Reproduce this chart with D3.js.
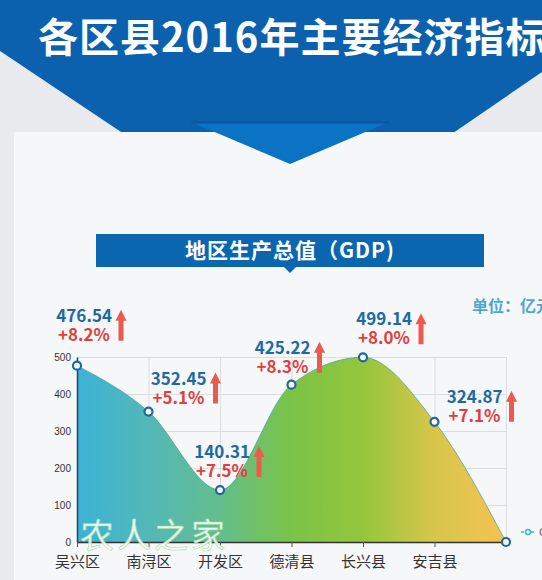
<!DOCTYPE html>
<html>
<head>
<meta charset="utf-8">
<script src="https://cdn.jsdelivr.net/npm/d3@7"></script>
<style>
body { margin:0; background:#e9eaed; overflow:hidden; }
svg { display:block; }
</style>
</head>
<body>
<svg></svg>
<script>
// data
var districts = ["吴兴区", "南浔区", "开发区", "德清县", "长兴县", "安吉县", ""];
var gdp = [476.54, 352.45, 140.31, 425.22, 499.14, 324.87, 0];
var growth = [8.2, 5.1, 7.5, 8.3, 8.0, 7.1];
var yTicks = [0, 100, 200, 300, 400, 500];

// label placement (layout only): offset of text end / baseline from the point
var labelDx = [35, 58, 30, 19, 49, 68];
var labelDy = [-44, -27, -32, -31, -32, -19];

var screen = {width: 542, height: 580};
var plot = {left: 77, right: 506, top: 357, bottom: 542};

var svg = d3.select("svg")
    .attr("width", screen.width)
    .attr("height", screen.height);

var defs = svg.append("defs");
var grad = defs.append("linearGradient")
    .attr("id", "fillGrad")
    .attr("gradientUnits", "userSpaceOnUse")
    .attr("x1", plot.left).attr("x2", plot.right)
    .attr("y1", 0).attr("y2", 0);
[[0, "#3db2d6"], [0.17, "#53b8b6"], [0.34, "#64be8a"], [0.5, "#7bc347"],
 [0.66, "#93c63c"], [0.83, "#d6c64b"], [1, "#f6c252"]].forEach(function(s){
    grad.append("stop").attr("offset", s[0]).attr("stop-color", s[1]);
});

// ---- header ----
svg.append("rect").attr("width", screen.width).attr("height", screen.height).attr("fill", "#e9eaed");
svg.append("polygon")
    .attr("points", "0,0 542,0 542,72 290,245 0,51")
    .attr("fill", "#0b61ae");
svg.append("text")
    .attr("x", 38).attr("y", 52)
    .attr("fill", "#ffffff")
    .attr("font-family", "'Noto Sans CJK SC', sans-serif")
    .attr("font-weight", "bold")
    .attr("font-size", 40)
    .attr("letter-spacing", 1)
    .text("各区县2016年主要经济指标");

// white panel
svg.append("rect")
    .attr("x", 14).attr("y", 132)
    .attr("width", 540).attr("height", 460)
    .attr("fill", "#f6f7f9");
svg.append("polygon")
    .attr("points", "191,122 389,122 290,164")
    .attr("fill", "#0b73c3");
svg.append("line")
    .attr("x1", 191).attr("x2", 389).attr("y1", 122.5).attr("y2", 122.5)
    .attr("stroke", "#0a56a0").attr("stroke-width", 2);

// sub banner
svg.append("rect")
    .attr("x", 96).attr("y", 234)
    .attr("width", 388).attr("height", 33)
    .attr("fill", "#0b66b0");
svg.append("polygon")
    .attr("points", "284,267 296,267 290,273")
    .attr("fill", "#0b66b0");
svg.append("text")
    .attr("x", 290).attr("y", 258)
    .attr("text-anchor", "middle")
    .attr("fill", "#ffffff")
    .attr("font-family", "'Noto Sans CJK SC', sans-serif")
    .attr("font-weight", "bold")
    .attr("font-size", 21)
    .attr("letter-spacing", 1)
    .text("地区生产总值（GDP)");

svg.append("text")
    .attr("x", 472).attr("y", 312)
    .attr("fill", "#4aa7d4")
    .attr("font-family", "'Noto Sans CJK SC', sans-serif")
    .attr("font-weight", "bold")
    .attr("font-size", 16)
    .text("单位：亿元");

// ---- chart ----
var xScale = d3.scalePoint().domain(districts).range([plot.left, plot.right]);
var yScale = d3.scaleLinear().domain([0, 500]).range([plot.bottom, plot.top]);

var graph = svg.append("g").attr("id", "graph");

// grid
graph.append("g").selectAll("line.h")
    .data(yTicks.slice(1))
    .enter().append("line")
    .attr("x1", plot.left).attr("x2", plot.right)
    .attr("y1", function(d){ return yScale(d) + 0.5; })
    .attr("y2", function(d){ return yScale(d) + 0.5; })
    .attr("stroke", "#dcdde0");
graph.append("g").selectAll("line.v")
    .data(districts.slice(1))
    .enter().append("line")
    .attr("x1", function(d){ return xScale(d) + 0.5; })
    .attr("x2", function(d){ return xScale(d) + 0.5; })
    .attr("y1", plot.top).attr("y2", plot.bottom)
    .attr("stroke", "#dcdde0");

var pts = districts.map(function(d, i){ return {name: d, value: gdp[i]}; });

var area = d3.area()
    .x(function(d){ return xScale(d.name); })
    .y0(plot.bottom)
    .y1(function(d){ return yScale(d.value); })
    .curve(d3.curveMonotoneX);
var line = d3.line()
    .x(function(d){ return xScale(d.name); })
    .y(function(d){ return yScale(d.value); })
    .curve(d3.curveMonotoneX);

graph.append("path").datum(pts)
    .attr("d", area)
    .attr("fill", "url(#fillGrad)");
graph.append("path").datum(pts)
    .attr("d", line)
    .attr("fill", "none")
    .attr("stroke", "#3f9b9b")
    .attr("stroke-opacity", 0.7)
    .attr("stroke-width", 1);

// axes
var yAxis = d3.axisLeft(yScale).tickValues(yTicks).tickSize(0).tickPadding(6);
var yG = graph.append("g")
    .attr("transform", "translate(" + plot.left + ",0)")
    .call(yAxis);
yG.select(".domain").attr("stroke", "#27415f").attr("stroke-width", 1.5);
yG.selectAll("text")
    .attr("font-family", "'Liberation Sans', Arial, sans-serif")
    .attr("font-size", 10)
    .attr("fill", "#333");

var xAxis = d3.axisBottom(xScale).tickSize(5).tickPadding(9).tickSizeOuter(0);
var xG = graph.append("g")
    .attr("transform", "translate(0," + plot.bottom + ")")
    .call(xAxis);
xG.select(".domain").attr("stroke", "#333").attr("stroke-width", 1.5);
xG.selectAll(".tick line").attr("stroke", "#555");
xG.selectAll("text")
    .attr("font-family", "'Noto Sans CJK SC', sans-serif")
    .attr("font-size", 15)
    .attr("fill", "#333");

// points
graph.append("g").selectAll("circle")
    .data(pts)
    .enter().append("circle")
    .attr("cx", function(d){ return xScale(d.name); })
    .attr("cy", function(d){ return yScale(d.value); })
    .attr("r", 4)
    .attr("fill", "#ffffff")
    .attr("stroke", "#1e67a0")
    .attr("stroke-width", 2.2);

// value labels with arrows
var labels = graph.append("g").selectAll("g")
    .data(pts.slice(0, growth.length))
    .enter().append("g")
    .attr("transform", function(d, i){
        return "translate(" + (xScale(d.name) + labelDx[i]) + "," + (yScale(d.value) + labelDy[i]) + ")";
    });
labels.append("text")
    .attr("text-anchor", "end")
    .attr("font-family", "'Noto Sans CJK SC', sans-serif")
    .attr("font-weight", "bold")
    .attr("font-size", 17)
    .attr("fill", "#1d6aa3")
    .text(function(d){ return d.value.toFixed(2); });
labels.append("text")
    .attr("text-anchor", "end")
    .attr("x", -2)
    .attr("y", 19)
    .attr("font-family", "'Noto Sans CJK SC', sans-serif")
    .attr("font-weight", "bold")
    .attr("font-size", 17)
    .attr("fill", "#e0403d")
    .text(function(d, i){ return "+" + growth[i].toFixed(1) + "%"; });
labels.append("path")
    .attr("d", "M9,-12 L14.5,-1 L11.5,-1 L11.5,19 L6.5,19 L6.5,-1 L3.5,-1 Z")
    .attr("fill", "#ea5a4f");

// legend stub at the right edge
var leg = svg.append("g").attr("transform", "translate(521,532)");
leg.append("line").attr("x1", 0).attr("x2", 14).attr("stroke", "#2bc0c6").attr("stroke-width", 1.5).attr("stroke-dasharray", "3,2");
leg.append("circle").attr("cx", 7).attr("r", 2.5).attr("fill", "#f6f7f9").attr("stroke", "#2bc0c6").attr("stroke-width", 1.5);
leg.append("text").attr("x", 18).attr("y", 4).attr("font-size", 11)
    .attr("font-family", "'Noto Sans CJK SC', sans-serif").attr("fill", "#555").text("GDP");

// watermark
svg.append("text")
    .attr("x", 80).attr("y", 548)
    .attr("font-family", "'Noto Sans CJK SC', sans-serif")
    .attr("font-size", 34)
    .attr("fill", "#ffffff")
    .attr("fill-opacity", 0.9)
    .attr("stroke", "#9fdc9f")
    .attr("stroke-width", 0.6)
    .attr("letter-spacing", 3)
    .text("农人之家");
</script>
</body>
</html>
